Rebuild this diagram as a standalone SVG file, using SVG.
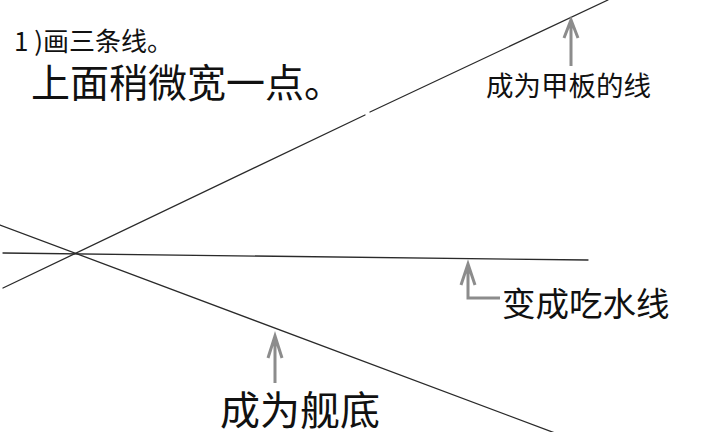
<svg xmlns="http://www.w3.org/2000/svg" width="728" height="432" viewBox="0 0 728 432">
<style>
.ln{stroke:#2a2a2a;stroke-width:1.3;fill:none;stroke-linecap:round}
.ar{stroke:#8c8c8c;stroke-width:3;fill:none;stroke-linejoin:miter}
text{font-family:"Noto Sans CJK SC","Noto Sans",sans-serif;fill:#111}
</style>
<rect width="728" height="432" fill="#fff"/>
<g id="lines">
<path class="ln" d="M3,288 L365,115 M370,112 L608,0"/>
<path class="ln" d="M0,225 L555,433"/>
<path class="ln" d="M3,253 L588,260"/>
</g>
<g id="connectors">
<path class="ar" d="M571,66 V21 M564,38 L571,20 L578,38"/>
<path class="ar" d="M468,264 V298 H500 M461,285 L468,264 L475,285"/>
<path class="ar" d="M275,383 V336 M268,358 L275,336 L282,358"/>
</g>
<g id="title">
<text x="14" y="51" font-size="26">1 )画三条线。</text>
<text x="31" y="97" font-size="39">上面稍微宽一点。</text>
</g>
<g id="deck"><text x="486" y="96" font-size="27.5">成为甲板的线</text></g>
<g id="waterline"><text x="502" y="316" font-size="33.5">变成吃水线</text></g>
<g id="bottom"><text x="220" y="425" font-size="40">成为舰底</text></g>
</svg>
